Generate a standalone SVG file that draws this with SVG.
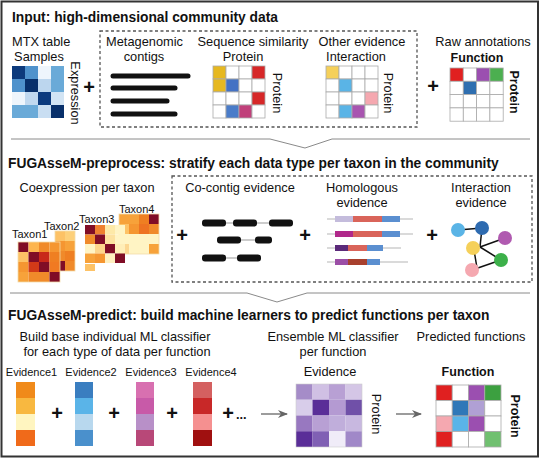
<svg xmlns="http://www.w3.org/2000/svg" width="540" height="459" viewBox="0 0 540 459">
<defs>
<style>
text{font-family:"Liberation Sans",Arial,Helvetica,sans-serif;fill:#111}
.h{font-size:13.8px;font-weight:bold}
.l{font-size:12.8px}
.s{font-size:11px}
.b{font-size:12.5px;font-weight:bold}
.p{font-size:20px;font-weight:bold}
.g rect{stroke:#aaa;stroke-width:0.8}
.dash{fill:none;stroke:#555;stroke-width:1.3;stroke-dasharray:3 2.5}
.div{fill:none;stroke:#8a8a8a;stroke-width:1}
.bar{fill:#111}
.thin{stroke:#999;stroke-width:1}
.hl{stroke:#b5b5b5;stroke-width:1}
.edge{stroke:#111;stroke-width:1.5}
.arr{stroke:#666;stroke-width:1.3;fill:none}
</style>
<marker id="ah" viewBox="0 0 10 8" refX="9" refY="4" markerWidth="10" markerHeight="8" markerUnits="userSpaceOnUse" orient="auto">
<path d="M0,0 L10,4 L0,8 L3,4 z" fill="#666"/>
</marker>
</defs>
<rect width="540" height="459" fill="#fff"/>
<rect x="1.5" y="1.5" width="536.5" height="455" fill="none" stroke="#333" stroke-width="2"/>

<!-- Section titles -->
<text class="h" x="12" y="22">Input: high-dimensional community data</text>
<text class="h" x="8" y="168">FUGAsseM-preprocess: stratify each data type per taxon in the community</text>
<text class="h" x="8" y="320">FUGAsseM-predict: build machine learners to predict functions per taxon</text>

<g id="connectors">
<polyline class="div" points="11,139 270,139 305,148 332,139 530,139"/>
<polyline class="div" points="10,293 247,293 277,302 307,293 530,293"/>
<line class="arr" x1="261" y1="414" x2="287" y2="414" marker-end="url(#ah)"/>
<line class="arr" x1="396" y1="414" x2="421" y2="414" marker-end="url(#ah)"/>
</g>

<!-- Section 1 -->
<g id="mtx-table">
<text class="l" x="12" y="46">MTX table</text>
<text class="l" x="39" y="61" text-anchor="middle">Samples</text>
<rect x="12" y="66" width="13" height="13" fill="#0d3a7c"/>
<rect x="25" y="66" width="13" height="13" fill="#4f92cc"/>
<rect x="38" y="66" width="13" height="13" fill="#eef5fc"/>
<rect x="51" y="66" width="13" height="13" fill="#6aaad8"/>
<rect x="12" y="79" width="13" height="13" fill="#4f92cc"/>
<rect x="25" y="79" width="13" height="13" fill="#08306b"/>
<rect x="38" y="79" width="13" height="13" fill="#bcd6ee"/>
<rect x="51" y="79" width="13" height="13" fill="#6aaad8"/>
<rect x="12" y="92" width="13" height="13" fill="#eef5fc"/>
<rect x="25" y="92" width="13" height="13" fill="#c0d8ef"/>
<rect x="38" y="92" width="13" height="13" fill="#0b3a7e"/>
<rect x="51" y="92" width="13" height="13" fill="#d2e4f4"/>
<rect x="12" y="105" width="13" height="13" fill="#6aaad8"/>
<rect x="25" y="105" width="13" height="13" fill="#6aaad8"/>
<rect x="38" y="105" width="13" height="13" fill="#c9def2"/>
<rect x="51" y="105" width="13" height="13" fill="#08306b"/>
<text class="l" transform="translate(71,93) rotate(90)" text-anchor="middle">Expression</text>
</g>
<text class="p" x="89" y="94" text-anchor="middle">+</text>

<g id="other-data">
<rect class="dash" x="100" y="31" width="317" height="96"/>
</g>

<g id="contigs">
<text class="l" x="144.5" y="46" text-anchor="middle">Metagenomic</text>
<text class="l" x="144" y="61" text-anchor="middle">contigs</text>
<g stroke="#111" stroke-width="5" stroke-linecap="round">
<line x1="113" y1="76" x2="188" y2="76"/>
<line x1="113" y1="88" x2="175" y2="88"/>
<line x1="113" y1="101" x2="167" y2="101"/>
<line x1="113" y1="114" x2="175" y2="114"/>
</g>
</g>

<g id="sequence-similarity">
<text class="l" x="253" y="46" text-anchor="middle">Sequence similarity</text>
<text class="l" x="243" y="61" text-anchor="middle">Protein</text>
<g class="g">
<rect x="213" y="66" width="13" height="13" fill="#e6b820"/>
<rect x="226" y="66" width="13" height="13" fill="#fff"/>
<rect x="239" y="66" width="13" height="13" fill="#fff"/>
<rect x="252" y="66" width="13" height="13" fill="#d62728"/>
<rect x="213" y="79" width="13" height="13" fill="#e6b820"/>
<rect x="226" y="79" width="13" height="13" fill="#4472c4"/>
<rect x="239" y="79" width="13" height="13" fill="#fff"/>
<rect x="252" y="79" width="13" height="13" fill="#fff"/>
<rect x="213" y="92" width="13" height="13" fill="#fff"/>
<rect x="226" y="92" width="13" height="13" fill="#fff"/>
<rect x="239" y="92" width="13" height="13" fill="#fff"/>
<rect x="252" y="92" width="13" height="13" fill="#d62728"/>
<rect x="213" y="105" width="13" height="13" fill="#fff"/>
<rect x="226" y="105" width="13" height="13" fill="#4a7cc9"/>
<rect x="239" y="105" width="13" height="13" fill="#c0407a"/>
<rect x="252" y="105" width="13" height="13" fill="#fff"/>
</g>
<text class="l" transform="translate(273,93) rotate(90)" text-anchor="middle">Protein</text>
</g>

<g id="other-evidence">
<text class="l" x="362" y="46" text-anchor="middle">Other evidence</text>
<text class="l" x="356" y="61" text-anchor="middle">Interaction</text>
<g class="g">
<rect x="326" y="66" width="13" height="13" fill="#f5d05a"/>
<rect x="339" y="66" width="13" height="13" fill="#fff"/>
<rect x="352" y="66" width="13" height="13" fill="#fff"/>
<rect x="365" y="66" width="13" height="13" fill="#fff"/>
<rect x="326" y="79" width="13" height="13" fill="#fff"/>
<rect x="339" y="79" width="13" height="13" fill="#5ab4e6"/>
<rect x="352" y="79" width="13" height="13" fill="#fff"/>
<rect x="365" y="79" width="13" height="13" fill="#fff"/>
<rect x="326" y="92" width="13" height="13" fill="#fff"/>
<rect x="339" y="92" width="13" height="13" fill="#fff"/>
<rect x="352" y="92" width="13" height="13" fill="#fff"/>
<rect x="365" y="92" width="13" height="13" fill="#f5a8b0"/>
<rect x="326" y="105" width="13" height="13" fill="#fff"/>
<rect x="339" y="105" width="13" height="13" fill="#5ab4e6"/>
<rect x="352" y="105" width="13" height="13" fill="#a855b0"/>
<rect x="365" y="105" width="13" height="13" fill="#fff"/>
</g>
<text class="l" transform="translate(384,93) rotate(90)" text-anchor="middle">Protein</text>
</g>
<text class="p" x="433" y="93" text-anchor="middle">+</text>

<g id="raw-annotations">
<text class="l" x="483" y="46" text-anchor="middle">Raw annotations</text>
<text class="b" x="477" y="62" text-anchor="middle">Function</text>
<g class="g">
<rect x="450" y="68" width="13.3" height="13.3" fill="#e02020"/>
<rect x="463.3" y="68" width="13.3" height="13.3" fill="#fff"/>
<rect x="476.6" y="68" width="13.3" height="13.3" fill="#9b4fb0"/>
<rect x="489.9" y="68" width="13.3" height="13.3" fill="#4caf50"/>
<rect x="450" y="81.3" width="13.3" height="13.3" fill="#fff"/>
<rect x="463.3" y="81.3" width="13.3" height="13.3" fill="#2f6fb0"/>
<rect x="476.6" y="81.3" width="13.3" height="13.3" fill="#fff"/>
<rect x="489.9" y="81.3" width="13.3" height="13.3" fill="#fff"/>
<rect x="450" y="94.6" width="13.3" height="13.3" fill="#fff"/>
<rect x="463.3" y="94.6" width="13.3" height="13.3" fill="#fff"/>
<rect x="476.6" y="94.6" width="13.3" height="13.3" fill="#fff"/>
<rect x="489.9" y="94.6" width="13.3" height="13.3" fill="#fff"/>
<rect x="450" y="107.9" width="13.3" height="13.3" fill="#fff"/>
<rect x="463.3" y="107.9" width="13.3" height="13.3" fill="#fff"/>
<rect x="476.6" y="107.9" width="13.3" height="13.3" fill="#fff"/>
<rect x="489.9" y="107.9" width="13.3" height="13.3" fill="#fff"/>
</g>
<text class="b" transform="translate(510,92) rotate(90)" text-anchor="middle">Protein</text>
</g>

<!-- Section 2 -->
<g id="coexpression">
<text class="l" x="87" y="192" text-anchor="middle">Coexpression per taxon</text>
<g id="taxon4">
<rect x="119" y="214" width="10" height="10" fill="#f7a23a"/>
<rect x="129" y="214" width="10" height="10" fill="#f7a23a"/>
<rect x="139" y="214" width="10" height="10" fill="#ef7f22"/>
<rect x="149" y="214" width="10" height="10" fill="#800d26"/>
<rect x="119" y="224" width="10" height="10" fill="#fdc266"/>
<rect x="129" y="224" width="10" height="10" fill="#f59631"/>
<rect x="139" y="224" width="10" height="10" fill="#ee7322"/>
<rect x="149" y="224" width="10" height="10" fill="#f08a2a"/>
<rect x="119" y="234" width="40" height="10" fill="#fff4c4"/>
<rect x="119" y="244" width="10" height="10" fill="#fcd792"/>
<rect x="129" y="244" width="20" height="10" fill="#fff4c4"/>
<rect x="149" y="244" width="10" height="10" fill="#f7a23a"/>
<rect x="119" y="214" width="40" height="40" fill="none" stroke="#f3dcaa" stroke-width="0.8"/>
<text class="s" x="119" y="213">Taxon4</text>
</g>
<g id="taxon3">
<rect x="85" y="225" width="10" height="9.5" fill="#800d26"/>
<rect x="95" y="225" width="10" height="9.5" fill="#ef8030"/>
<rect x="105" y="225" width="10" height="9.5" fill="#fde9a8"/>
<rect x="115" y="225" width="10" height="9.5" fill="#fff4c4"/>
<rect x="85" y="234.5" width="10" height="9.5" fill="#f08a2a"/>
<rect x="95" y="234.5" width="10" height="9.5" fill="#800d26"/>
<rect x="105" y="234.5" width="10" height="9.5" fill="#fde2a0"/>
<rect x="115" y="234.5" width="10" height="9.5" fill="#fff4c4"/>
<rect x="85" y="244" width="10" height="9.5" fill="#fff4c4"/>
<rect x="95" y="244" width="10" height="9.5" fill="#fdd58c"/>
<rect x="105" y="244" width="10" height="9.5" fill="#800d26"/>
<rect x="115" y="244" width="10" height="9.5" fill="#ffeeb8"/>
<rect x="85" y="253.5" width="10" height="9.5" fill="#f7a23a"/>
<rect x="95" y="253.5" width="10" height="9.5" fill="#f59631"/>
<rect x="105" y="253.5" width="10" height="9.5" fill="#fff0c0"/>
<rect x="115" y="253.5" width="10" height="9.5" fill="#800d26"/>
<rect x="85" y="264" width="10" height="7" fill="#fdc266"/>
<text class="s" x="79" y="223">Taxon3</text>
</g>
<g id="taxon2">
<rect x="55" y="231" width="10" height="10" fill="#fdc266"/>
<rect x="65" y="231" width="10" height="10" fill="#fdd07a"/>
<rect x="55" y="241" width="10" height="10" fill="#f59631"/>
<rect x="65" y="241" width="10" height="10" fill="#f7a23a"/>
<rect x="55" y="251" width="10" height="10" fill="#f08a2a"/>
<rect x="65" y="251" width="10" height="10" fill="#ef7f22"/>
<rect x="55" y="261" width="10" height="10" fill="#800d26"/>
<rect x="65" y="261" width="10" height="10" fill="#f08a2a"/>
<rect x="55" y="231" width="20" height="40" fill="none" stroke="#f3dcaa" stroke-width="0.8"/>
<text class="s" x="44" y="230">Taxon2</text>
</g>
<g id="taxon1">
<rect x="18" y="242" width="10.5" height="10" fill="#800d26"/>
<rect x="28.5" y="242" width="10.5" height="10" fill="#fdb54e"/>
<rect x="39" y="242" width="10.5" height="10" fill="#f08a2a"/>
<rect x="49.5" y="242" width="10.5" height="10" fill="#f59631"/>
<rect x="18" y="252" width="10.5" height="10" fill="#fdc266"/>
<rect x="28.5" y="252" width="10.5" height="10" fill="#800d26"/>
<rect x="39" y="252" width="10.5" height="10" fill="#c8281a"/>
<rect x="49.5" y="252" width="10.5" height="10" fill="#ef7f22"/>
<rect x="18" y="262" width="10.5" height="10" fill="#f59631"/>
<rect x="28.5" y="262" width="10.5" height="10" fill="#d23a18"/>
<rect x="39" y="262" width="10.5" height="10" fill="#800d26"/>
<rect x="49.5" y="262" width="10.5" height="10" fill="#f07a22"/>
<rect x="18" y="272" width="10.5" height="10" fill="#f7a23a"/>
<rect x="28.5" y="272" width="10.5" height="10" fill="#f08a2a"/>
<rect x="39" y="272" width="10.5" height="10" fill="#f08a2a"/>
<rect x="49.5" y="272" width="10.5" height="10" fill="#800d26"/>
<rect x="18" y="242" width="42" height="40" fill="none" stroke="#f3dcaa" stroke-width="0.8"/>
<text class="s" x="12" y="238">Taxon1</text>
</g>
</g>
<text class="p" x="182" y="242" text-anchor="middle">+</text>

<g id="taxon-evidence">
<rect class="dash" x="172" y="176" width="360" height="106"/>
</g>

<g id="co-contig">
<text class="l" x="240" y="192" text-anchor="middle">Co-contig evidence</text>
<line class="thin" x1="205" y1="223" x2="290" y2="223"/>
<line class="thin" x1="220" y1="240" x2="269" y2="240"/>
<line class="thin" x1="205" y1="258" x2="258" y2="258"/>
<rect class="bar" x="202" y="219.5" width="24" height="7" rx="3"/>
<rect class="bar" x="233" y="219.5" width="24" height="7" rx="3"/>
<rect class="bar" x="269" y="219.5" width="24" height="7" rx="3"/>
<rect class="bar" x="217" y="236.5" width="24" height="7" rx="3"/>
<rect class="bar" x="255" y="236.5" width="17" height="7" rx="3"/>
<rect class="bar" x="202" y="254.5" width="24" height="7" rx="3"/>
<rect class="bar" x="237" y="254.5" width="24" height="7" rx="3"/>
</g>
<text class="p" x="305" y="242" text-anchor="middle">+</text>

<g id="homologous">
<text class="l" x="362" y="192" text-anchor="middle">Homologous</text>
<text class="l" x="362" y="207" text-anchor="middle">evidence</text>
<line class="hl" x1="327" y1="219" x2="413" y2="219"/>
<line class="hl" x1="327" y1="234" x2="413" y2="234"/>
<line class="hl" x1="327" y1="248" x2="401" y2="248"/>
<line class="hl" x1="327" y1="262" x2="408" y2="262"/>
<rect x="335" y="216" width="18" height="6" fill="#c4bcdc"/>
<rect x="353" y="216" width="29" height="6" fill="#d9645a"/>
<rect x="382" y="216" width="18" height="6" fill="#5b8fd0"/>
<rect x="335" y="231" width="18" height="6" fill="#b0288a"/>
<rect x="353" y="231" width="29" height="6" fill="#d9645a"/>
<rect x="382" y="231" width="18" height="6" fill="#5b8fd0"/>
<rect x="335" y="245" width="13" height="6" fill="#5b2a7a"/>
<rect x="348" y="245" width="19" height="6" fill="#d9645a"/>
<rect x="367" y="245" width="16" height="6" fill="#5b8fd0"/>
<rect x="335" y="259" width="13" height="6" fill="#9b4ea6"/>
<rect x="348" y="259" width="19" height="6" fill="#a8402e"/>
<rect x="367" y="259" width="13" height="6" fill="#5b8fd0"/>
</g>
<text class="p" x="432" y="242" text-anchor="middle">+</text>

<g id="interaction">
<text class="l" x="481" y="192" text-anchor="middle">Interaction</text>
<text class="l" x="481" y="207" text-anchor="middle">evidence</text>
<line class="edge" x1="458" y1="230" x2="482" y2="228"/>
<line class="edge" x1="482" y1="228" x2="480" y2="247"/>
<line class="edge" x1="480" y1="247" x2="505" y2="238"/>
<line class="edge" x1="480" y1="247" x2="501" y2="260"/>
<line class="edge" x1="474" y1="250" x2="477" y2="268"/>
<line class="edge" x1="472" y1="270" x2="501" y2="260"/>
<circle cx="458" cy="230" r="7" fill="#5ab4e6"/>
<circle cx="482" cy="228" r="7" fill="#2e6bb0"/>
<circle cx="505" cy="238" r="7" fill="#b05ab0"/>
<circle cx="473" cy="248" r="7" fill="#f5d05a"/>
<circle cx="501" cy="260" r="7" fill="#3cb04a"/>
<circle cx="472" cy="270" r="7" fill="#f5a8b0"/>
</g>

<!-- Section 3 -->
<g id="base-classifiers">
<text class="l" x="115" y="341" text-anchor="middle">Build base individual ML classifier</text>
<text class="l" x="117" y="356" text-anchor="middle">for each type of data per function</text>
<text class="s" x="31.5" y="376" text-anchor="middle">Evidence1</text>
<text class="s" x="91" y="376" text-anchor="middle">Evidence2</text>
<text class="s" x="151" y="376" text-anchor="middle">Evidence3</text>
<text class="s" x="211" y="376" text-anchor="middle">Evidence4</text>
<rect x="16" y="382" width="19" height="16" fill="#f08a1a"/>
<rect x="16" y="398" width="19" height="16" fill="#f8b840"/>
<rect x="16" y="414" width="19" height="16" fill="#fff5c0"/>
<rect x="16" y="430" width="19" height="16" fill="#f06a1a"/>
<rect x="75" y="382" width="18" height="16" fill="#3a7ec0"/>
<rect x="75" y="398" width="18" height="16" fill="#5ab4e8"/>
<rect x="75" y="414" width="18" height="16" fill="#b8d8ee"/>
<rect x="75" y="430" width="18" height="16" fill="#4a90cc"/>
<rect x="136" y="382" width="18" height="16" fill="#d870b0"/>
<rect x="136" y="398" width="18" height="16" fill="#c85aa8"/>
<rect x="136" y="414" width="18" height="16" fill="#b890c8"/>
<rect x="136" y="430" width="18" height="16" fill="#b84878"/>
<rect x="193" y="382" width="19" height="16" fill="#d46060"/>
<rect x="193" y="398" width="19" height="16" fill="#c82828"/>
<rect x="193" y="414" width="19" height="16" fill="#f59090"/>
<rect x="193" y="430" width="19" height="16" fill="#a01010"/>
<text class="p" x="57" y="420" text-anchor="middle">+</text>
<text class="p" x="114" y="420" text-anchor="middle">+</text>
<text class="p" x="172" y="420" text-anchor="middle">+</text>
<text class="p" x="228" y="420" text-anchor="middle">+</text>
<text class="l" x="236" y="419" font-weight="bold">...</text>
</g>

<g id="ensemble">
<text class="l" x="333" y="341" text-anchor="middle">Ensemble ML classifier</text>
<text class="l" x="333" y="356" text-anchor="middle">per function</text>
<text class="l" x="330" y="376" text-anchor="middle">Evidence</text>
<rect x="296" y="384" width="16.5" height="15.75" fill="#a58cc8"/>
<rect x="312.5" y="384" width="16.5" height="15.75" fill="#d0c0e4"/>
<rect x="329" y="384" width="16.5" height="15.75" fill="#b8a0d4"/>
<rect x="345.5" y="384" width="16.5" height="15.75" fill="#d4c6e6"/>
<rect x="296" y="399.75" width="16.5" height="15.75" fill="#d8cdea"/>
<rect x="312.5" y="399.75" width="16.5" height="15.75" fill="#5a2e98"/>
<rect x="329" y="399.75" width="16.5" height="15.75" fill="#b49ad2"/>
<rect x="345.5" y="399.75" width="16.5" height="15.75" fill="#7050a8"/>
<rect x="296" y="415.5" width="16.5" height="15.75" fill="#9878c0"/>
<rect x="312.5" y="415.5" width="16.5" height="15.75" fill="#b8a0d4"/>
<rect x="329" y="415.5" width="16.5" height="15.75" fill="#c0aedb"/>
<rect x="345.5" y="415.5" width="16.5" height="15.75" fill="#c8b8e0"/>
<rect x="296" y="431.25" width="16.5" height="15.75" fill="#5a2e98"/>
<rect x="312.5" y="431.25" width="16.5" height="15.75" fill="#8060b4"/>
<rect x="329" y="431.25" width="16.5" height="15.75" fill="#f0ecf8"/>
<rect x="345.5" y="431.25" width="16.5" height="15.75" fill="#a088c8"/>
<rect x="296" y="384" width="66" height="63" fill="none" stroke="#ccc" stroke-width="0.6"/>
<text class="l" transform="translate(372,414) rotate(90)" text-anchor="middle">Protein</text>
</g>

<g id="predicted">
<text class="l" x="471" y="341" text-anchor="middle">Predicted functions</text>
<text class="b" x="468" y="376" text-anchor="middle">Function</text>
<g class="g">
<rect x="436" y="385" width="16.25" height="15.5" fill="#e02020"/>
<rect x="452.25" y="385" width="16.25" height="15.5" fill="#fff"/>
<rect x="468.5" y="385" width="16.25" height="15.5" fill="#9b4fb0"/>
<rect x="484.75" y="385" width="16.25" height="15.5" fill="#3ca040"/>
<rect x="436" y="400.5" width="16.25" height="15.5" fill="#fff"/>
<rect x="452.25" y="400.5" width="16.25" height="15.5" fill="#2f78b8"/>
<rect x="468.5" y="400.5" width="16.25" height="15.5" fill="#b0a0d4"/>
<rect x="484.75" y="400.5" width="16.25" height="15.5" fill="#fff"/>
<rect x="436" y="416" width="16.25" height="15.5" fill="#f5a8b0"/>
<rect x="452.25" y="416" width="16.25" height="15.5" fill="#5ab4e8"/>
<rect x="468.5" y="416" width="16.25" height="15.5" fill="#9b4fb0"/>
<rect x="484.75" y="416" width="16.25" height="15.5" fill="#fff"/>
<rect x="436" y="431.5" width="16.25" height="15.5" fill="#e02020"/>
<rect x="452.25" y="431.5" width="16.25" height="15.5" fill="#fff"/>
<rect x="468.5" y="431.5" width="16.25" height="15.5" fill="#fff"/>
<rect x="484.75" y="431.5" width="16.25" height="15.5" fill="#70c070"/>
</g>
<text class="b" transform="translate(511,416) rotate(90)" text-anchor="middle">Protein</text>
</g>
</svg>
